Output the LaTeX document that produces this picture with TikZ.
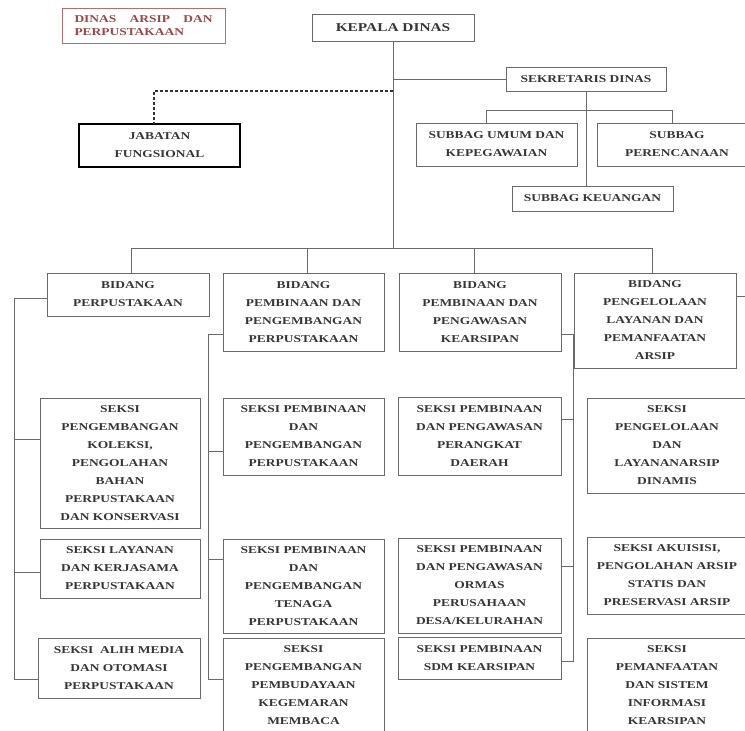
\documentclass[tikz,border=0pt]{standalone}
\usepackage{fontspec}
\newfontfamily\orgfont[FakeStretch=1.28]{Liberation Serif}
\definecolor{linec}{HTML}{6A6A6A}
\definecolor{txtc}{HTML}{363636}
\definecolor{redb}{HTML}{B07070}
\definecolor{redt}{HTML}{9A4848}
\tikzset{
  orgbox/.style={draw=linec, line width=0.9pt, inner sep=0pt, align=center, text=txtc,
    font=\orgfont\bfseries\fontsize{10.5}{18}\selectfont},
  conn/.style={draw=linec, line width=0.9pt},
  dashconn/.style={draw=black!80, line width=1.1pt, dash pattern=on 3pt off 2pt},
}
\newcommand{\orgbx}[7][]{\node[orgbox,#1,minimum width={#5pt-#3pt},minimum height={#6pt-#4pt}] (#2) at ({(#3+#5)/2},{(#4+#6)/2}) {#7};}
\begin{document}
\begin{tikzpicture}[x=1pt,y=-1pt]
\useasboundingbox (0,0) rectangle (745,731);
\fill[white] (0,0) rectangle (745,731);
\clip (0,0) rectangle (745,731);

% top
\node[orgbox, draw=redb, text=redt, align=left, font=\orgfont\bfseries\fontsize{10.5}{13}\selectfont,
  minimum width=163pt, minimum height=35pt] (dinas) at (143.5,25.5)
  {\makebox[138pt][l]{DINAS\hfill ARSIP\hfill DAN}\\PERPUSTAKAAN};
\orgbx[font=\orgfont\bfseries\fontsize{12}{18}\selectfont]{kepala}{312}{14}{474}{41}{KEPALA DINAS}
\orgbx{sekretaris}{506}{67}{666}{91}{SEKRETARIS DINAS}
\orgbx[draw=black, line width=2pt]{jabatan}{79}{124}{240}{167}{JABATAN\\FUNGSIONAL}
\orgbx{umum}{416}{123}{577}{166}{SUBBAG UMUM DAN\\KEPEGAWAIAN}
\orgbx{peren}{597}{123}{757}{166}{SUBBAG\\PERENCANAAN}
\orgbx{keuangan}{512}{186}{673}{211}{SUBBAG KEUANGAN}

% bidang
\orgbx{bperp}{47}{273}{209}{316}{BIDANG\\PERPUSTAKAAN}
\orgbx{bpeng}{223}{273}{384}{351}{BIDANG\\PEMBINAAN DAN\\PENGEMBANGAN\\PERPUSTAKAAN}
\orgbx{bkear}{399}{273}{561}{351}{BIDANG\\PEMBINAAN DAN\\PENGAWASAN\\KEARSIPAN}
\orgbx{bkelola}{574}{273}{736}{368}{BIDANG\\PENGELOLAAN\\LAYANAN DAN\\PEMANFAATAN\\ARSIP}

% seksi column 1
\orgbx{koleksi}{40}{398}{200}{528}{SEKSI\\PENGEMBANGAN\\KOLEKSI,\\PENGOLAHAN\\BAHAN\\PERPUSTAKAAN\\DAN KONSERVASI}
\orgbx{layanan}{40}{539}{200}{598}{SEKSI LAYANAN\\DAN KERJASAMA\\PERPUSTAKAAN}
\orgbx{alih}{38}{638}{200}{698}{SEKSI\ \ ALIH MEDIA\\DAN OTOMASI\\PERPUSTAKAAN}
% seksi column 2
\orgbx{ppp}{223}{398}{384}{475}{SEKSI PEMBINAAN\\DAN\\PENGEMBANGAN\\PERPUSTAKAAN}
\orgbx{tenaga}{223}{539}{384}{633}{SEKSI PEMBINAAN\\DAN\\PENGEMBANGAN\\TENAGA\\PERPUSTAKAAN}
\orgbx{budaya}{223}{638}{384}{733}{SEKSI\\PENGEMBANGAN\\PEMBUDAYAAN\\KEGEMARAN\\MEMBACA}
% seksi column 3
\orgbx{perangkat}{398}{397}{561}{475}{SEKSI PEMBINAAN\\DAN PENGAWASAN\\PERANGKAT\\DAERAH}
\orgbx{ormas}{398}{538}{561}{633}{SEKSI PEMBINAAN\\DAN PENGAWASAN\\ORMAS\\PERUSAHAAN\\DESA/KELURAHAN}
\orgbx{sdm}{398}{637}{561}{679}{SEKSI PEMBINAAN\\SDM KEARSIPAN}
% seksi column 4
\orgbx{dinamis}{587}{398}{747}{493}{SEKSI\\PENGELOLAAN\\DAN\\LAYANANARSIP\\DINAMIS}
\orgbx{akuisisi}{587}{537}{747}{614}{SEKSI AKUISISI,\\PENGOLAHAN ARSIP\\STATIS DAN\\PRESERVASI ARSIP}
\orgbx{pemanf}{587}{638}{747}{733}{SEKSI\\PEMANFAATAN\\DAN SISTEM\\INFORMASI\\KEARSIPAN}

% coordinates
\coordinate (kbus) at (393,248);
\coordinate (dk) at (393,91);
\coordinate (dj) at (154,124);
\coordinate (sbL) at (486,110);
\coordinate (sbR) at (672,110);
\coordinate (busL) at (131,248);
\coordinate (busR) at (652,248);
\coordinate (d2) at (307,248);
\coordinate (d3) at (474,248);
\coordinate (t1s) at (14,298);
\coordinate (t1e) at (14,679);
\coordinate (t2s) at (208,334);
\coordinate (t2e) at (208,679);
\coordinate (t3s) at (573,334);
\coordinate (t3e) at (573,661);
\coordinate (r1) at (746,296);

% top connectors
\draw[conn] (kepala.south) -- (kbus);
\draw[conn] (kepala.south |- sekretaris.west) -- (sekretaris.west);
\draw[dashconn] (dk) -| (dj);
\draw[conn] (sekretaris.south) -- (sekretaris.south |- keuangan.north);
\draw[conn] (sbL |- umum.north) -- (sbL) -- (sbR) -- (sbR |- peren.north);

% bus
\draw[conn] (busL |- bperp.north) -- (busL) -- (busR) -- (busR |- bkelola.north);
\draw[conn] (d2) -- (d2 |- bpeng.north);
\draw[conn] (d3) -- (d3 |- bkear.north);
\draw[conn] (r1 -| bkelola.east) -- (r1);

% trunk 1
\draw[conn] (t1s -| bperp.west) -- (t1s) -- (t1e) -- (t1e -| alih.west);
\draw[conn] (14,439) -- (koleksi.west |- 0,439);
\draw[conn] (14,572) -- (layanan.west |- 0,572);
% trunk 2
\draw[conn] (t2s -| bpeng.west) -- (t2s) -- (t2e) -- (t2e -| budaya.west);
\draw[conn] (208,451) -- (ppp.west |- 0,451);
\draw[conn] (208,559) -- (tenaga.west |- 0,559);
% trunk 3
\draw[conn] (t3s -| bkear.east) -- (t3s) -- (t3e) -- (t3e -| sdm.east);
\draw[conn] (573,419) -- (perangkat.east |- 0,419);
\draw[conn] (573,566) -- (ormas.east |- 0,566);
\end{tikzpicture}
\end{document}
